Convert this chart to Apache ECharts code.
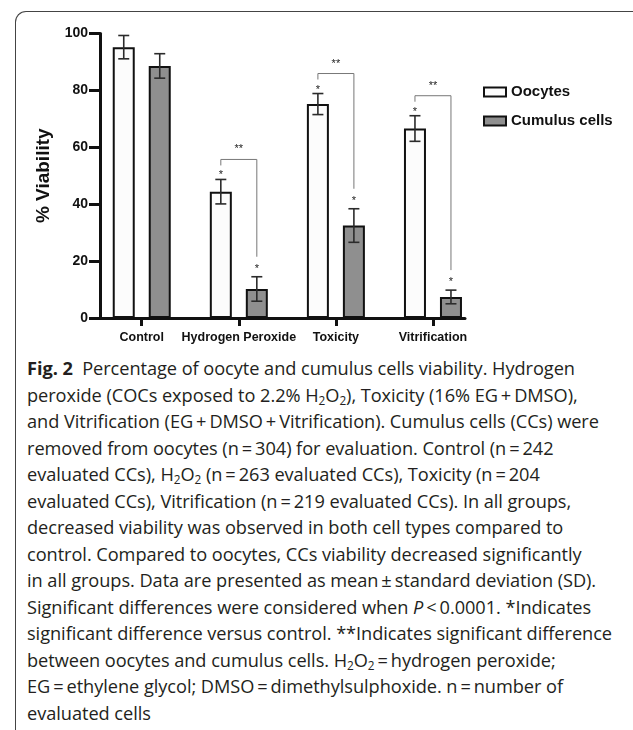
<!DOCTYPE html>
<html><head><meta charset="utf-8">
<script src="https://cdn.jsdelivr.net/npm/echarts@6/dist/echarts.min.js"></script>
<style>
html,body{margin:0;padding:0;background:#fff;width:633px;height:730px;overflow:hidden;position:relative;}
#frame{position:absolute;left:15px;top:11px;width:640px;height:740px;border-top:1.3px solid #444;border-left:1.3px solid #444;border-top-left-radius:11px;}
#chart{position:absolute;left:0;top:0;width:633px;height:352px;}
#cap{position:absolute;left:27px;top:355px;font-family:'Open Sans', sans-serif;font-size:18.2px;letter-spacing:-0.05px;color:#231f20;}
#cap div{white-space:nowrap;height:26.5px;line-height:26.5px;}
#cap sub{font-size:0.65em;vertical-align:-0.25em;line-height:0}
</style></head>
<body>
<div id="frame"></div>
<div id="chart"></div>
<div id="cap">
<div><b>Fig. 2</b>&nbsp; Percentage of oocyte and cumulus cells viability. Hydrogen</div>
<div>peroxide (COCs exposed to 2.2% H<sub>2</sub>O<sub>2</sub>), Toxicity (16% EG&thinsp;+&thinsp;DMSO),</div>
<div>and Vitrification (EG&thinsp;+&thinsp;DMSO&thinsp;+&thinsp;Vitrification). Cumulus cells (CCs) were</div>
<div>removed from oocytes (n&thinsp;=&thinsp;304) for evaluation. Control (n&thinsp;=&thinsp;242</div>
<div>evaluated CCs), H<sub>2</sub>O<sub>2</sub> (n&thinsp;=&thinsp;263 evaluated CCs), Toxicity (n&thinsp;=&thinsp;204</div>
<div>evaluated CCs), Vitrification (n&thinsp;=&thinsp;219 evaluated CCs). In all groups,</div>
<div>decreased viability was observed in both cell types compared to</div>
<div>control. Compared to oocytes, CCs viability decreased significantly</div>
<div>in all groups. Data are presented as mean&thinsp;±&thinsp;standard deviation (SD).</div>
<div>Significant differences were considered when <i>P</i>&thinsp;&lt;&thinsp;0.0001. *Indicates</div>
<div>significant difference versus control. **Indicates significant difference</div>
<div>between oocytes and cumulus cells. H<sub>2</sub>O<sub>2</sub>&thinsp;=&thinsp;hydrogen peroxide;</div>
<div>EG&thinsp;=&thinsp;ethylene glycol; DMSO&thinsp;=&thinsp;dimethylsulphoxide. n&thinsp;=&thinsp;number of</div>
<div>evaluated cells</div>
</div>
<script>
const categories = ['Control', 'Hydrogen Peroxide', 'Toxicity', 'Vitrification'];
const seriesNames = ['Oocytes', 'Cumulus cells'];
const oocyteMean = [95.2, 44.4, 75.2, 66.6];
const oocyteSD = [4.1, 4.3, 3.7, 4.5];
const ccMean = [88.6, 10.2, 32.5, 7.4];
const ccSD = [4.3, 4.3, 5.9, 2.4];
const oocyteMark = ['', '*', '*', '*'];
const ccMark = ['', '*', '*', '*'];
const pairMark = ['', '**', '**', '**'];
const yTicks = [0, 20, 40, 60, 80, 100];

const BAR_W = 22, GAP = 14, OFF = (BAR_W + GAP) / 2;
const chart = echarts.init(document.getElementById('chart'), null, {renderer: 'canvas'});
const idx = categories.map((c, i) => i);

function errItem(off) {
  return function (params, api) {
    const x = api.value(0), m = api.value(1), s = api.value(2);
    const t = api.coord([x, m + s]), b = api.coord([x, m - s]);
    const cx = t[0] + off, hw = 5.5;
    const st = {stroke: '#2b2b2b', lineWidth: 1.6};
    return {type: 'group', children: [
      {type: 'line', shape: {x1: cx, y1: t[1], x2: cx, y2: b[1]}, style: st},
      {type: 'line', shape: {x1: cx - hw, y1: t[1], x2: cx + hw, y2: t[1]}, style: st},
      {type: 'line', shape: {x1: cx - hw, y1: b[1], x2: cx + hw, y2: b[1]}, style: st}
    ]};
  };
}
function starItem(off, marks, lift) {
  return function (params, api) {
    const i = api.value(0), m = api.value(1), s = api.value(2);
    const t = api.coord([i, m + s]);
    return {type: 'text', x: t[0] + off, y: t[1] - lift, style: {
      text: marks[params.dataIndex], fill: '#222', font: '11px Arial', align: 'center', verticalAlign: 'middle'}};
  };
}
function bracketItem(params, api) {
  const i = api.value(0), om = api.value(1), os = api.value(2), cm = api.value(3), cs = api.value(4);
  if (!pairMark[params.dataIndex]) return null;
  const o = api.coord([i, om + os]), c = api.coord([i, cm + cs]);
  const yb = o[1] - 20;
  const xl = o[0] - OFF, xr = o[0] + OFF;
  return {type: 'group', children: [
    {type: 'polyline', shape: {points: [[xl, yb + 6], [xl, yb], [xr, yb], [xr, c[1] - 20]]}, style: {stroke: '#777', lineWidth: 1, fill: null}},
    {type: 'text', x: o[0], y: yb - 10, style: {text: pairMark[params.dataIndex], fill: '#222', font: '11px Arial', align: 'center', verticalAlign: 'middle'}}
  ]};
}

const option = {
  animation: false,
  backgroundColor: 'transparent',
  grid: {left: 100, top: 33.5, width: 365, height: 284.5, containLabel: false},
  legend: {
    orient: 'vertical', left: 478, top: 78, itemWidth: 22, itemHeight: 9, itemGap: 11,
    itemTextGap: 14, icon: 'rect',
    textStyle: {fontFamily: 'Liberation Sans, Arial', fontWeight: 'bold', fontSize: 15, color: '#111', lineHeight: 18},
    data: seriesNames
  },
  xAxis: {
    type: 'value', min: -0.43, max: 3.33,
    axisLine: {show: true, onZero: false, lineStyle: {color: '#111', width: 3}},
    axisTick: {show: true, customValues: idx, length: 8, lineStyle: {color: '#111', width: 3}},
    axisLabel: {customValues: idx, formatter: v => categories[Math.round(v)], margin: 13,
      fontFamily: 'Liberation Sans, Arial', fontWeight: 'bold', fontSize: 12.5, color: '#111'},
    splitLine: {show: false}
  },
  yAxis: {
    type: 'value', min: 0, max: 100, interval: 20,
    name: '% Viability', nameLocation: 'middle', nameGap: 37, nameRotate: 90,
    nameTextStyle: {fontFamily: 'Liberation Sans, Arial', fontWeight: 'bold', fontSize: 19, color: '#111'},
    axisLine: {show: true, onZero: false, lineStyle: {color: '#111', width: 3}},
    axisTick: {show: true, customValues: yTicks, length: 11, lineStyle: {color: '#111', width: 3}},
    axisLabel: {margin: 12, fontFamily: 'Liberation Sans, Arial', fontWeight: 'bold', fontSize: 14, color: '#111',
      customValues: yTicks},
    splitLine: {show: false}
  },
  series: [
    {name: seriesNames[0], type: 'bar', barWidth: BAR_W, barGap: (GAP / BAR_W * 100) + '%',
      data: idx.map(i => [i, oocyteMean[i]]),
      itemStyle: {color: '#fcfcfc', borderColor: '#111', borderWidth: 2}, z: 2},
    {name: seriesNames[1], type: 'bar', barWidth: BAR_W,
      data: idx.map(i => [i, ccMean[i]]),
      itemStyle: {color: '#8f8f8f', borderColor: '#111', borderWidth: 2}, z: 2},
    {type: 'custom', renderItem: errItem(-OFF), data: idx.map(i => [i, oocyteMean[i], oocyteSD[i]]), z: 5, clip: false, silent: true},
    {type: 'custom', renderItem: errItem(OFF), data: idx.map(i => [i, ccMean[i], ccSD[i]]), z: 5, clip: false, silent: true},
    {type: 'custom', renderItem: starItem(-OFF, oocyteMark, 4), data: idx.map(i => [i, oocyteMean[i], oocyteSD[i]]), z: 5, clip: false, silent: true},
    {type: 'custom', renderItem: starItem(OFF, ccMark, 8), data: idx.map(i => [i, ccMean[i], ccSD[i]]), z: 5, clip: false, silent: true},
    {type: 'custom', renderItem: bracketItem, data: idx.map(i => [i, oocyteMean[i], oocyteSD[i], ccMean[i], ccSD[i]]), z: 4, clip: false, silent: true}
  ]
};
chart.setOption(option);
</script>
</body></html>
